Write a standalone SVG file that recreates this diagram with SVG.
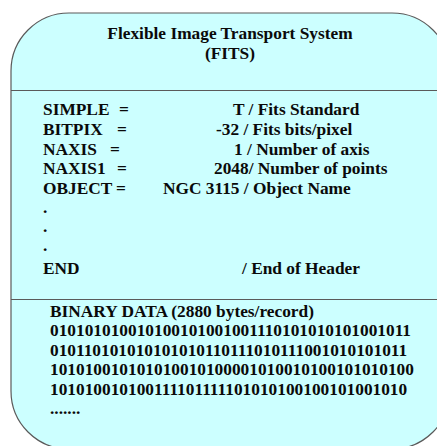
<svg xmlns="http://www.w3.org/2000/svg" width="437" height="446" viewBox="0 0 437 446">
  <style>
    .card { fill: #ccffff; stroke: #5a5a5a; stroke-width: 1.2; }
    .rule { stroke: #5a5a5a; stroke-width: 1.2; fill: none; }
    text { font-family: "Liberation Serif", "Times New Roman", serif; font-weight: bold; font-size: 17.33px; fill: #0a0a0a; }
    .c { text-anchor: middle; }
  </style>
  <rect width="437" height="446" fill="#ffffff"/>
  <g id="fits-card">
    <path class="card" d="M 11,71 A 58,58 0 0 1 69,13 L 392,13 A 58,58 0 0 1 450,71 L 450,391 A 58,58 0 0 1 392,449 L 69,449 A 58,58 0 0 1 11,391 Z"/>
    <line class="rule" x1="11" y1="90.5" x2="450" y2="90.5"/>
    <line class="rule" x1="11" y1="299.5" x2="450" y2="299.5"/>
  </g>
  <g id="title">
    <text class="c" x="230" y="39">Flexible Image Transport System</text>
    <text class="c" x="230" y="58.5">(FITS)</text>
  </g>
  <g id="header">
    <text x="43" y="115">SIMPLE<tspan x="119">=</tspan><tspan x="233">T / Fits Standard</tspan></text>
    <text x="43" y="135">BITPIX<tspan x="117">=</tspan><tspan x="216">-32 / Fits bits/pixel</tspan></text>
    <text x="43" y="154.5">NAXIS<tspan x="110">=</tspan><tspan x="234">1 / Number of axis</tspan></text>
    <text x="43" y="174">NAXIS1<tspan x="117">=</tspan><tspan x="214">2048/ Number of points</tspan></text>
    <text x="43" y="193.5">OBJECT<tspan x="116">=</tspan><tspan x="163">NGC 3115 / Object Name</tspan></text>
    <text x="43" y="213">.</text>
    <text x="43" y="232">.</text>
    <text x="43" y="251">.</text>
    <text x="43" y="274">END<tspan x="242">/ End of Header</tspan></text>
  </g>
  <g id="data">
    <text x="50" y="317">BINARY DATA (2880 bytes/record)</text>
    <text x="50" y="336">010101010010100101001001110101010101001011</text>
    <text x="50" y="355.5">010110101010101010110111010111001010101011</text>
    <text x="50" y="375">101010010101010010100001010010100101010100</text>
    <text x="50" y="394.5">101010010100111101111101010100100101001010</text>
    <text x="50" y="414">.......</text>
  </g>
  <g id="connectors"/>
</svg>
